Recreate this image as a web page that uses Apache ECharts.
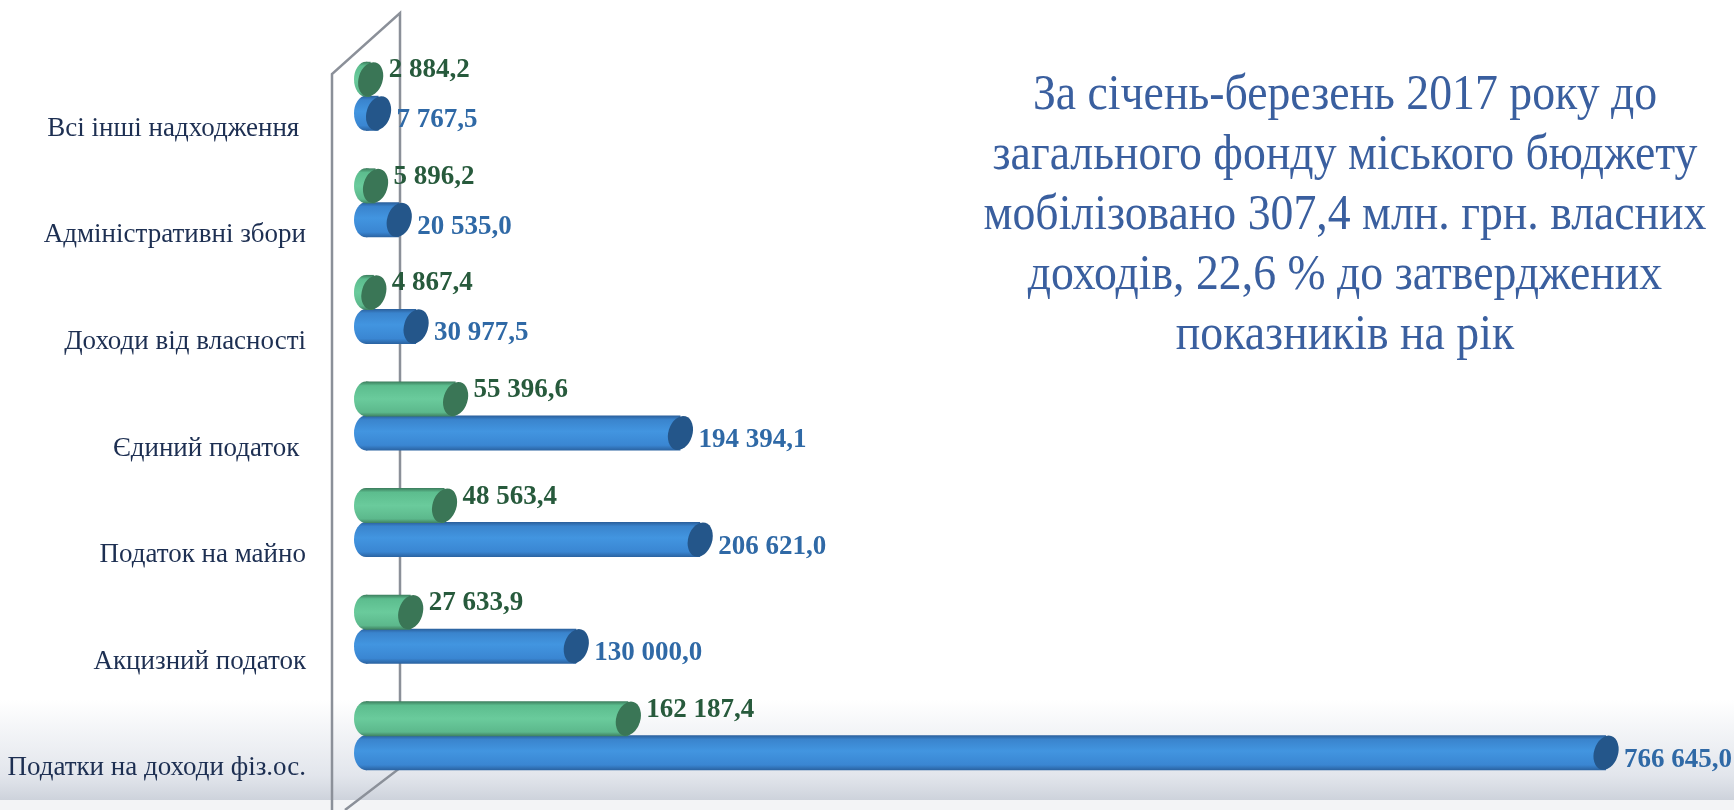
<!DOCTYPE html>
<html>
<head>
<meta charset="utf-8">
<title>Власні доходи, січень-березень 2017</title>
<script src="https://cdn.jsdelivr.net/npm/echarts@6/dist/echarts.min.js"></script>
<style>
    html, body { margin: 0; padding: 0; background: #ffffff; }
    #chart { width: 1734px; height: 810px; }
</style>
</head>
<body>
<div id="chart"></div>
<script>
// категорії зверху вниз
const categories = [
    'Всі інші надходження ',
    'Адміністративні збори',
    'Доходи від власності',
    'Єдиний податок ',
    'Податок на майно',
    'Акцизний податок',
    'Податки на доходи фіз.ос.'
];
// план (синій)
const planValues = [7767.5, 20535.0, 30977.5, 194394.1, 206621.0, 130000.0, 766645.0];
// виконано (зелений)
const factValues = [2884.2, 5896.2, 4867.4, 55396.6, 48563.4, 27633.9, 162187.4];

const noteText = 'За січень-березень 2017 року до\n' +
    'загального фонду міського бюджету\n' +
    'мобілізовано 307,4 млн. грн. власних\n' +
    'доходів, 22,6 % до затверджених\n' +
    'показників на рік';

const BAR_H = 35;
const CAP_RX = 12;

// 766645 -> "766 645,0"
function fmt(v) {
    let parts = v.toFixed(1).split('.');
    let intPart = parts[0].replace(/\B(?=(\d{3})+(?!\d))/g, ' ');
    return intPart + ',' + parts[1];
}

function toData(values) {
    return values.map(function (v, i) { return [v, i]; });
}

// малює циліндр: заокруглений лівий край, тіло і торець праворуч
function cylinder(shift, body, capColor, labelColor, labelDy) {
    return function (params, api) {
        let cat = api.value(1);
        let val = api.value(0);
        let start = api.coord([0, cat]);
        let end = api.coord([val, cat]);
        let cy = start[1] + shift;
        let grad = new echarts.graphic.LinearGradient(0, 0, 0, 1, body);
        return {
            type: 'group',
            children: [{
                type: 'circle',
                x: start[0], y: cy,
                scaleX: CAP_RX / (BAR_H / 2),
                shape: { cx: 0, cy: 0, r: BAR_H / 2 },
                style: { fill: grad }
            }, {
                type: 'rect',
                shape: { x: start[0], y: cy - BAR_H / 2, width: Math.max(end[0] - start[0], 0), height: BAR_H },
                style: { fill: grad }
            }, {
                type: 'circle',
                x: end[0], y: cy,
                scaleX: CAP_RX / (BAR_H / 2),
                rotation: -0.3,
                shape: { cx: 0, cy: 0, r: BAR_H / 2 },
                style: { fill: capColor }
            }, {
                type: 'text',
                x: end[0] + CAP_RX + 6,
                y: cy + labelDy,
                style: {
                    text: fmt(val),
                    fill: labelColor,
                    font: 'bold 27px "Liberation Serif", "Times New Roman", serif',
                    verticalAlign: 'middle',
                    align: 'left'
                }
            }]
        };
    };
}

let myChart = echarts.init(document.getElementById('chart'));

let option = {
    backgroundColor: '#ffffff',
    animation: false,
    grid: { left: 366, right: 74, top: 43, bottom: 21 },
    xAxis: {
        type: 'value',
        min: 0,
        max: 800000,
        show: false
    },
    yAxis: {
        type: 'category',
        inverse: true,
        data: categories,
        axisLine: { show: false },
        axisTick: { show: false },
        splitLine: { show: false },
        axisLabel: {
            margin: 60,
            color: '#1d2f52',
            fontSize: 27,
            fontFamily: '"Liberation Serif", "Times New Roman", serif',
            verticalAlign: 'top',
            padding: [19, 0, 0, 0]
        }
    },
    graphic: [
        // сірий фон унизу слайда
        {
            type: 'rect', z: 0,
            shape: { x: 0, y: 700, width: 1734, height: 100 },
            style: {
                fill: new echarts.graphic.LinearGradient(0, 0, 0, 1, [
                    { offset: 0, color: 'rgba(214,219,228,0)' },
                    { offset: 0.75, color: 'rgba(214,219,228,0.7)' },
                    { offset: 1, color: '#cdd2db' }
                ])
            }
        },
        {
            type: 'rect', z: 0,
            shape: { x: 0, y: 800, width: 1734, height: 10 },
            style: { fill: '#f3f4f6' }
        },
        // стінка псевдо-3D
        {
            type: 'polyline', z: 1,
            shape: { points: [[332, 810], [332, 74], [400, 13], [400, 768], [345, 810]] },
            style: { stroke: '#8b9099', lineWidth: 2.5, fill: null }
        },
        {
            type: 'text', z: 10,
            x: 1345, y: 216,
            scaleX: 0.915,
            style: {
                text: noteText,
                fill: '#3a5f9f',
                font: '50px "Liberation Serif", "Times New Roman", serif',
                lineHeight: 60,
                align: 'center',
                verticalAlign: 'middle'
            }
        }
    ],
    series: [{
        name: 'План',
        type: 'custom',
        z: 3,
        encode: { x: 0, y: 1 },
        data: toData(planValues),
        renderItem: cylinder(17, [
            { offset: 0, color: '#2a5e9a' },
            { offset: 0.12, color: '#3a84cd' },
            { offset: 0.45, color: '#4295e0' },
            { offset: 0.85, color: '#3a86d2' },
            { offset: 1, color: '#2a62a0' }
        ], '#24568a', '#2f69a6', 7)
    }, {
        name: 'Виконано',
        type: 'custom',
        z: 4,
        encode: { x: 0, y: 1 },
        data: toData(factValues),
        renderItem: cylinder(-17, [
            { offset: 0, color: '#3c7c5c' },
            { offset: 0.12, color: '#5cbd8e' },
            { offset: 0.5, color: '#6acb9c' },
            { offset: 0.88, color: '#5cb88c' },
            { offset: 1, color: '#3e8060' }
        ], '#3a7656', '#275a3c', -9)
    }]
};

myChart.setOption(option);
</script>
</body>
</html>
